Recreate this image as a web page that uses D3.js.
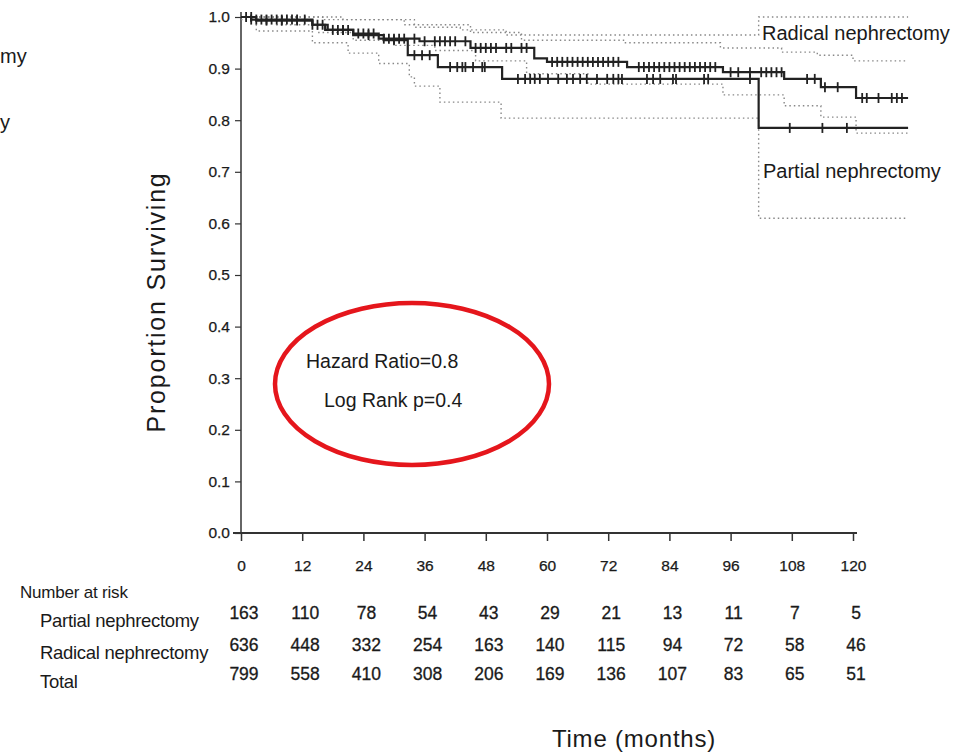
<!DOCTYPE html>
<html>
<head>
<meta charset="utf-8">
<script src="https://cdn.jsdelivr.net/npm/d3@7"></script>
<style>
  body { margin: 0; background: #fff; }
  svg { font-family: "Liberation Sans", Arial, sans-serif; }
  .tick text { fill: #1a1a1a; }
</style>
</head>
<body>
<svg id="chart" width="967" height="753"></svg>
<script>
// x axis ticks (months) and y axis ticks (proportion)
const monthTicks = [0, 12, 24, 36, 48, 60, 72, 84, 96, 108, 120];
const survTicks = [0, 0.1, 0.2, 0.3, 0.4, 0.5, 0.6, 0.7, 0.8, 0.9, 1.0];
const lastTime = 130.8;

// Kaplan-Meier steps: time where each level starts, and the level
const radicalTimes = [0, 2, 14, 16.5, 22, 27, 35, 45, 57.5, 60, 75.7, 94.5, 106.5, 113.7, 120.6];
const radicalSurv  = [1.0, 0.995, 0.985, 0.975, 0.968, 0.958, 0.953, 0.94, 0.92, 0.913, 0.903, 0.893, 0.880, 0.864, 0.843];
const partialTimes = [0, 3, 14, 17, 22, 28, 32.7, 38.6, 51.2, 101.5];
const partialSurv  = [1.0, 0.993, 0.985, 0.975, 0.965, 0.955, 0.926, 0.903, 0.880, 0.785];

// confidence bands (dotted)
const radicalUpTimes = [0, 20, 32, 45, 55, 75, 94, 106, 113, 120];
const radicalUp      = [1.0, 0.995, 0.985, 0.97, 0.955, 0.95, 0.94, 0.932, 0.926, 0.915];
const radicalLoTimes = [0, 7, 15, 22, 30, 38, 46, 56, 68, 94.5, 106.5, 113.7, 120.6];
const radicalLo      = [0.995, 0.985, 0.97, 0.955, 0.945, 0.935, 0.915, 0.89, 0.87, 0.849, 0.828, 0.806, 0.775];
const partialUpTimes = [0, 16, 34, 43, 52, 101.5];
const partialUp      = [1.0, 0.995, 0.98, 0.975, 0.965, 1.0];
const partialLoTimes = [0, 3, 14, 21, 27, 33, 34, 39, 51, 101.5];
const partialLo      = [1.0, 0.973, 0.95, 0.93, 0.91, 0.884, 0.866, 0.835, 0.804, 0.61];

// censoring marks
const radicalCensor = [1, 2, 3, 4, 5, 6, 7, 8, 9, 10, 11, 12.5, 14, 15, 16, 18, 19, 20, 21, 23, 24, 25, 26, 28, 29, 30, 31, 32,
  34, 36, 38, 39, 40, 41, 42, 44, 46, 47, 48, 49, 50, 52, 53, 55, 56, 61, 62, 63, 64, 65, 66, 67, 68, 69, 70, 71, 72, 73, 74,
  78, 79, 80, 81, 82, 83, 84, 85, 86, 87, 88, 89, 90, 91, 92, 93, 96, 97.5, 99.8, 102, 103, 104, 105, 106,
  111, 112.5, 114.5, 117, 121.8, 122.7, 125, 127.6, 128.6, 129.6];
const partialCensor = [2, 5, 8, 11, 20, 25, 30, 34, 35.5, 37, 41, 42.4, 43.4, 44, 45.5, 47.3, 47.8,
  54.3, 55.7, 56.7, 57.6, 58.6, 60.2, 62.2, 63.9, 65.1, 66.5, 67.8, 69.8, 71.8, 73, 74, 74.7,
  79.6, 80.8, 82.2, 84.7, 85.3, 90.8, 91.6, 99.8, 107.6, 114, 118.8];

// number at risk
const riskRows = ["Partial nephrectomy", "Radical nephrectomy", "Total"];
const riskPartial = [163, 110, 78, 54, 43, 29, 21, 13, 11, 7, 5];
const riskRadical = [636, 448, 332, 254, 163, 140, 115, 94, 72, 58, 46];
const riskTotal   = [799, 558, 410, 308, 206, 169, 136, 107, 83, 65, 51];

const statLines = ["Hazard Ratio=0.8", "Log Rank p=0.4"];
const edgeBits = ["my", "y"];

const svg = d3.select("#chart");
const margin = {left: 241, top: 17, right: 114, bottom: 220};
const width = 967 - margin.left - margin.right;   // 612
const height = 753 - margin.top - margin.bottom;  // 516

const x = d3.scaleLinear().domain([0, 120]).range([margin.left, margin.left + width]);
const y = d3.scaleLinear().domain([0, 1]).range([margin.top + height, margin.top]);

// legend remnants visible at the left edge
svg.append("g").selectAll("text").data(edgeBits).join("text")
  .attr("x", 0).attr("y", (d, i) => i === 0 ? 63 : 129)
  .attr("font-size", 20).attr("fill", "#1a1a1a").text(d => d);

// axes
const yAxis = svg.append("g")
  .attr("transform", `translate(${margin.left},0)`)
  .call(d3.axisLeft(y).tickValues(survTicks).tickFormat(d3.format(".1f")).tickSizeOuter(0).tickSize(6).tickPadding(5));
yAxis.select(".domain").attr("stroke", "#333").attr("stroke-width", 1.5).attr("d", `M0,${y(0)}V${y(1) - 5}`);
yAxis.selectAll(".tick line").attr("stroke", "#333").attr("stroke-width", 1.2);
yAxis.selectAll("text").attr("font-size", 15.5).attr("stroke", "#1a1a1a").attr("stroke-width", 0.25);

const xAxis = svg.append("g")
  .attr("transform", `translate(0,${y(0)})`)
  .call(d3.axisBottom(x).tickValues(monthTicks).tickSizeOuter(0).tickSize(8).tickPadding(19));
xAxis.select(".domain").attr("stroke", "#333").attr("stroke-width", 2).attr("d", `M${x(0) - 8},0H${x(120) + 4}`);
xAxis.selectAll(".tick line").attr("stroke", "#333").attr("stroke-width", 1.5);
xAxis.selectAll("text").attr("font-size", 15.5).attr("stroke", "#1a1a1a").attr("stroke-width", 0.25);

// axis titles
svg.append("text")
  .attr("transform", `translate(165,302) rotate(-90)`)
  .attr("text-anchor", "middle").attr("font-size", 25).attr("letter-spacing", 1.8).attr("fill", "#1a1a1a")
  .text("Proportion Surviving");
svg.append("text")
  .attr("x", 634).attr("y", 747).attr("text-anchor", "middle")
  .attr("font-size", 24).attr("letter-spacing", 0.8).attr("fill", "#1a1a1a").text("Time (months)");

// step helpers
function stepPoints(times, vals) {
  const pts = times.map((t, i) => [t, vals[i]]);
  pts.push([lastTime, vals[vals.length - 1]]);
  return pts;
}
function levelAt(times, vals, t) {
  const i = d3.bisectRight(times, t) - 1;
  return vals[Math.max(0, i)];
}
const stepLine = d3.line().x(d => x(d[0])).y(d => y(d[1])).curve(d3.curveStepAfter);

// confidence limits
[[radicalUpTimes, radicalUp], [radicalLoTimes, radicalLo], [partialUpTimes, partialUp], [partialLoTimes, partialLo]]
  .forEach(([t, v]) => {
    svg.append("path").attr("d", stepLine(stepPoints(t, v)))
      .attr("fill", "none").attr("stroke", "#888").attr("stroke-width", 1.4)
      .attr("stroke-dasharray", "1.5,3");
  });

// survival curves
[[radicalTimes, radicalSurv, radicalCensor], [partialTimes, partialSurv, partialCensor]].forEach(([t, v, c]) => {
  svg.append("path").attr("d", stepLine(stepPoints(t, v)))
    .attr("fill", "none").attr("stroke", "#222").attr("stroke-width", 2.2);
  svg.append("g").selectAll("line").data(c).join("line")
    .attr("x1", d => x(d)).attr("x2", d => x(d))
    .attr("y1", d => y(levelAt(t, v, d)) - 5).attr("y2", d => y(levelAt(t, v, d)) + 5)
    .attr("stroke", "#222").attr("stroke-width", 1.8);
});

// curve labels
svg.append("text").attr("x", 762).attr("y", 40).attr("font-size", 20).attr("fill", "#1a1a1a").text("Radical nephrectomy");
svg.append("text").attr("x", 763).attr("y", 178).attr("font-size", 20).attr("fill", "#1a1a1a").text("Partial nephrectomy");

// statistics with red ellipse
svg.append("ellipse").attr("cx", 412).attr("cy", 384).attr("rx", 137).attr("ry", 81)
  .attr("fill", "none").attr("stroke", "#e5161c").attr("stroke-width", 4.5);
svg.append("g").selectAll("text").data(statLines).join("text")
  .attr("x", (d, i) => i === 0 ? 306 : 324).attr("y", (d, i) => 368 + i * 39)
  .attr("font-size", 19.5).attr("fill", "#1a1a1a").text(d => d);

// number at risk table
svg.append("text").attr("x", 20).attr("y", 598).attr("font-size", 17).attr("fill", "#1a1a1a")
  .attr("letter-spacing", -0.2).text("Number at risk");
const rowY = [619, 651, 680];
svg.append("g").selectAll("text").data(riskRows).join("text")
  .attr("x", 40).attr("y", (d, i) => rowY[i] + 8).attr("font-size", 18.5).attr("fill", "#1a1a1a")
  .attr("letter-spacing", -0.3).text(d => d);
[riskPartial, riskRadical, riskTotal].forEach((row, r) => {
  svg.append("g").selectAll("text").data(row).join("text")
    .attr("x", (d, i) => x(monthTicks[i]) + 3).attr("y", rowY[r])
    .attr("text-anchor", "middle").attr("font-size", 17.5).attr("fill", "#1a1a1a")
    .attr("stroke", "#1a1a1a").attr("stroke-width", 0.3).text(d => d);
});
</script>
</body>
</html>
